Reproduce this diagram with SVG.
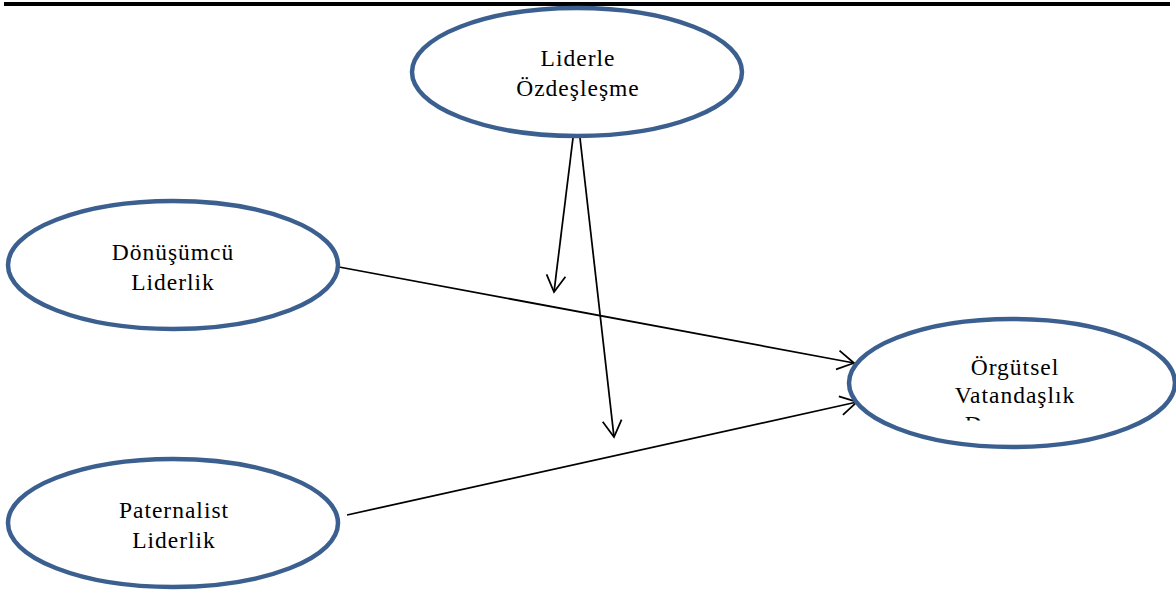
<svg xmlns="http://www.w3.org/2000/svg" width="1176" height="595" viewBox="0 0 1176 595">
<style>
.node{fill:#fff;stroke:#3b5f8f;stroke-width:4.5}
.lbl{font-family:"Liberation Serif","DejaVu Serif",serif;font-size:23.5px;letter-spacing:1px;fill:#000;text-anchor:middle}
.con{stroke:#000;stroke-width:1.75;fill:none}
</style>
<defs>
<marker id="arr" markerUnits="userSpaceOnUse" markerWidth="30" markerHeight="30" viewBox="-20 -15 30 30" refX="0" refY="0" orient="auto">
<path d="M -16.5 -9.5 L 0 0 L -16.5 9.5" fill="none" stroke="#000" stroke-width="1.75"/>
</marker>
<clipPath id="clipO"><rect x="850" y="300" width="330" height="120.5"/></clipPath>
</defs>
<rect x="4" y="2" width="1166" height="4" fill="#000"/>
<g id="connectors">
<line class="con" x1="339" y1="267" x2="854" y2="363" marker-end="url(#arr)"/>
<line class="con" x1="347" y1="515" x2="857" y2="402" marker-end="url(#arr)"/>
<line class="con" x1="573" y1="138" x2="554" y2="292" marker-end="url(#arr)"/>
<line class="con" x1="580" y1="138" x2="614" y2="437" marker-end="url(#arr)"/>
</g>
<g id="liderle">
<ellipse class="node" cx="577" cy="72" rx="165" ry="64" fill-opacity="0"/>
<text class="lbl" x="578" y="66">Liderle</text>
<text class="lbl" x="578" y="96">Özdeşleşme</text>
</g>
<g id="donusumcu">
<ellipse class="node" cx="173" cy="265" rx="165" ry="64"/>
<text class="lbl" x="173" y="260">Dönüşümcü</text>
<text class="lbl" x="173" y="290">Liderlik</text>
</g>
<g id="paternalist">
<ellipse class="node" cx="173" cy="523" rx="165" ry="64"/>
<text class="lbl" x="174" y="518">Paternalist</text>
<text class="lbl" x="174" y="548">Liderlik</text>
</g>
<g id="orgutsel">
<ellipse class="node" cx="1012" cy="383" rx="163" ry="64"/>
<text class="lbl" x="1015" y="375">Örgütsel</text>
<text class="lbl" x="1015" y="403">Vatandaşlık</text>
<text class="lbl" x="1015" y="432" clip-path="url(#clipO)">Davranışı</text>
</g>
</svg>
